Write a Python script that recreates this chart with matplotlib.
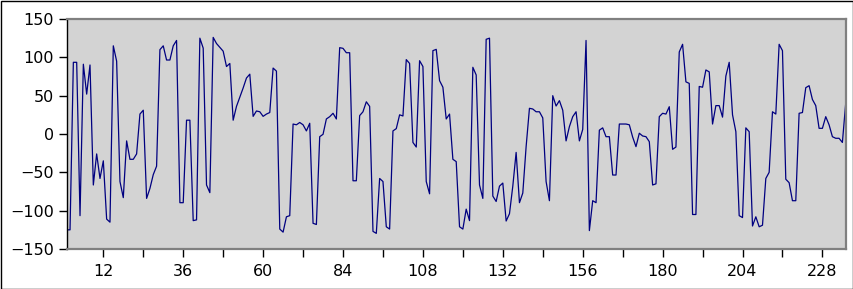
import matplotlib
matplotlib.use('Agg')
import matplotlib.pyplot as plt
from matplotlib.patches import Rectangle
import numpy as np

values = [
    -125, -125, 93.5, 93.5, -106.5, 91, 52, 90, -66.5, -26,
    -58, -35, -111, -115, 115, 95, -62, -83, -9, -33,
    -33, -26, 26, 31, -84, -71, -53, -42, 110, 115,
    96.5, 96.5, 115, 122, -89.6, -89.6, 18, 18, -113, -112,
    125, 112, -66.5, -76.5, 126, 118, 113, 108, 88, 92,
    18, 36, 48, 60, 73, 78, 23, 30, 29, 23,
    26, 28, 86, 82, -124, -128, -108, -106.5, 13, 12,
    15, 12, 4, 14, -116.5, -118, -3.5, -0.4, 19.6, 22.6,
    27, 19.6, 112.6, 111.7, 106, 106, -61, -61, 24, 29,
    42, 36, -127, -129.6, -58, -62, -121, -124, 4, 7,
    25, 23.5, 97, 92, -11, -17, 95.6, 88, -62, -78,
    108.7, 110.4, 69.6, 61, 19.6, 26, -33, -36, -121, -124,
    -98, -113, 87, 77, -66.5, -84, 123.5, 125, -81, -88,
    -68, -64, -113.5, -104, -68, -24, -89.6, -77, -16.5, 33.5,
    32.6, 29, 29, 21, -62, -87, 50, 36.5, 43.5, 31,
    -9, 9.6, 22.6, 29, -9, 6, 122, -126, -87, -89.6,
    5, 8, -3.5, -3.5, -53.5, -53.5, 13, 13, 13, 12,
    -4, -16.5, 1, -2.6, -3.5, -10, -66.5, -65, 22.6, 27,
    26, 35.6, -20, -17, 107, 117, 68, 66, -105, -105,
    62, 61, 83.5, 81, 13, 37, 37, 22, 75.6, 93.5,
    25, 3, -106.5, -109, 8, 3, -120, -108, -121, -119,
    -58, -50, 29, 26, 117, 108.7, -59, -63.5, -87, -87,
    27, 28, 60.4, 63, 45, 37, 7.4, 7.4, 22.6, 12,
    -3.5, -5.6, -5.6, -11, 40,
]
x = np.arange(1, len(values) + 1)

x_ticks = list(range(12, 235, 12))
x_labels = [str(t) if t % 24 == 12 else '' for t in x_ticks]
y_ticks = [-150, -100, -50, 0, 50, 100, 150]

fig = plt.figure(figsize=(8.54, 2.89), dpi=100)
ax = fig.add_axes([0.0781, 0.1384, 0.9122, 0.7959])
ax.set_facecolor('#d3d3d3')
ax.plot(x, values, color='#000080', linewidth=0.9)

ax.set_xlim(1, 235)
ax.set_ylim(-150, 150)
ax.set_xticks(x_ticks)
ax.set_xticklabels(x_labels)
ax.set_yticks(y_ticks)
ax.tick_params(length=6, width=1, labelsize=11.5, pad=3)
ax.tick_params(axis='x', pad=5)

for side in ('top', 'right', 'bottom'):
    ax.spines[side].set_color('#808080')
    ax.spines[side].set_linewidth(1.6)
ax.spines['left'].set_color('black')
ax.spines['left'].set_linewidth(1.0)

fig.patches.append(Rectangle((0.0006, 0.0017), 0.9982, 0.9965, transform=fig.transFigure,
                             fill=False, edgecolor='black', linewidth=1))

fig.savefig('out.png', dpi=100)
